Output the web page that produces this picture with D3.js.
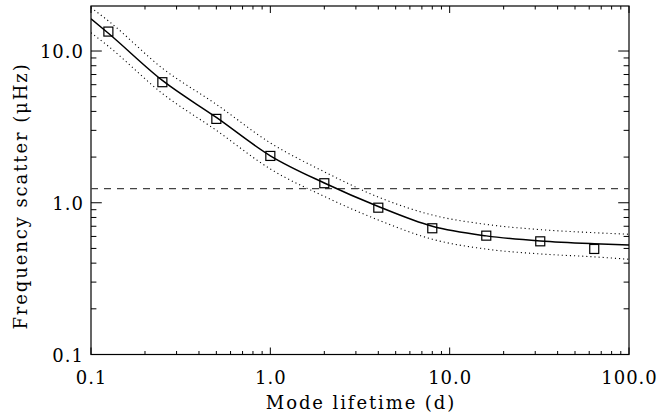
<!DOCTYPE html>
<html lang="en">
<head>
    <meta charset="UTF-8">
    <title>Frequency scatter vs mode lifetime</title>
    <script src="https://cdn.jsdelivr.net/npm/d3@7"></script>
    <style>
        body { margin: 0; background: #fff; }
        svg { display: block; }
        text { font-family: "DejaVu Serif", "Liberation Serif", serif; fill: #000; }
        .tick-label { font-size: 18px; letter-spacing: 1px; }
        .axis-title { font-size: 18px; letter-spacing: 1.9px; }
    </style>
</head>
<body>
<script>
    // fitted curve and its bounds
    const curveT = [0.1, 0.125, 0.25, 0.5, 1, 2, 4, 8, 16, 32, 64, 100];
    const curveMid = [16.3, 13.1, 6.4, 3.65, 2.04, 1.35, 0.945, 0.70, 0.605, 0.56, 0.537, 0.527];
    const curveUpper = [19.3, 15.8, 7.7, 4.45, 2.48, 1.6, 1.09, 0.83, 0.72, 0.665, 0.635, 0.62];
    const curveLower = [13.2, 10.75, 5.25, 3.0, 1.67, 1.1, 0.77, 0.575, 0.495, 0.46, 0.44, 0.424];

    // measured points
    const pointT = [0.125, 0.25, 0.5, 1, 2, 4, 8, 16, 32, 64];
    const pointScatter = [13.43, 6.23, 3.57, 2.035, 1.345, 0.928, 0.679, 0.607, 0.557, 0.496];

    // horizontal reference level
    const refLevel = 1.24;

    const xTicks = [0.1, 1, 10, 100];
    const xTickLabels = ["0.1", "1.0", "10.0", "100.0"];
    const yTicks = [0.1, 1, 10];
    const yTickLabels = ["0.1", "1.0", "10.0"];

    const width = 658;
    const height = 416;
    const margin = { top: 6, right: 29, bottom: 61.5, left: 91 };
    const plotW = width - margin.left - margin.right;
    const plotH = height - margin.top - margin.bottom;

    const x = d3.scaleLog().domain([0.1, 100]).range([0, plotW]);
    const y = d3.scaleLog().domain([0.1, 19.8]).range([plotH, 0]);

    const svg = d3.select("body").append("svg")
        .attr("width", width)
        .attr("height", height);

    const g = svg.append("g")
        .attr("transform", `translate(${margin.left},${margin.top})`);

    // minor tick values for log axes
    function logTicks(lo, hi) {
        let out = [];
        for (let p = Math.floor(Math.log10(lo)); p <= Math.ceil(Math.log10(hi)); p++) {
            for (let k = 1; k < 10; k++) {
                let v = k * Math.pow(10, p);
                if (v >= lo * 0.999 && v <= hi * 1.001) out.push({ v: v, major: k === 1 });
            }
        }
        return out;
    }

    const xAll = logTicks(0.1, 100);
    const yAll = logTicks(0.1, 19.8);

    const tickG = g.append("g").attr("stroke", "#000").attr("stroke-width", 1);

    // bottom and top ticks
    const hLen = d => d.major ? 7 : 3.5;
    tickG.selectAll(".xb").data(xAll).enter().append("line")
        .attr("x1", d => x(d.v)).attr("x2", d => x(d.v))
        .attr("y1", plotH).attr("y2", d => plotH - hLen(d));
    tickG.selectAll(".xt").data(xAll).enter().append("line")
        .attr("x1", d => x(d.v)).attr("x2", d => x(d.v))
        .attr("y1", 0).attr("y2", d => hLen(d));

    // left and right ticks
    const vLen = d => d.major ? 10.8 : 5.4;
    tickG.selectAll(".yl").data(yAll).enter().append("line")
        .attr("y1", d => y(d.v)).attr("y2", d => y(d.v))
        .attr("x1", 0).attr("x2", d => vLen(d));
    tickG.selectAll(".yr").data(yAll).enter().append("line")
        .attr("y1", d => y(d.v)).attr("y2", d => y(d.v))
        .attr("x1", plotW).attr("x2", d => plotW - vLen(d));

    // frame
    g.append("rect")
        .attr("width", plotW)
        .attr("height", plotH)
        .attr("fill", "none")
        .attr("stroke", "#000")
        .attr("stroke-width", 1.2);

    // tick labels
    g.selectAll(".xlab").data(xTicks).enter().append("text")
        .attr("class", "tick-label")
        .attr("x", d => x(d) + 0.5)
        .attr("y", plotH + 29)
        .attr("text-anchor", "middle")
        .text((d, i) => xTickLabels[i]);

    g.selectAll(".ylab").data(yTicks).enter().append("text")
        .attr("class", "tick-label")
        .attr("x", -7)
        .attr("y", d => y(d) + 7)
        .attr("text-anchor", "end")
        .text((d, i) => yTickLabels[i]);

    // axis titles
    g.append("text")
        .attr("class", "axis-title")
        .attr("x", plotW / 2 + 1)
        .attr("y", plotH + 54)
        .attr("text-anchor", "middle")
        .text("Mode lifetime (d)");

    svg.append("text")
        .attr("class", "axis-title")
        .attr("transform", "translate(27,196) rotate(-90)")
        .attr("text-anchor", "middle")
        .text("Frequency scatter (\u03BCHz)");

    // clip to plot area
    svg.append("defs").append("clipPath").attr("id", "clip")
        .append("rect").attr("width", plotW).attr("height", plotH);

    const plot = g.append("g").attr("clip-path", "url(#clip)");

    const line = d3.line()
        .x(d => x(d[0]))
        .y(d => y(d[1]))
        .curve(d3.curveMonotoneX);

    // dashed reference level
    plot.append("line")
        .attr("x1", 0).attr("x2", plotW)
        .attr("y1", y(refLevel)).attr("y2", y(refLevel))
        .attr("stroke", "#444")
        .attr("stroke-width", 1.3)
        .attr("stroke-dasharray", "7,6");

    // dotted bounds
    [curveUpper, curveLower].forEach(arr => {
        plot.append("path")
            .datum(curveT.map((t, i) => [t, arr[i]]))
            .attr("d", line)
            .attr("fill", "none")
            .attr("stroke", "#000")
            .attr("stroke-width", 1.1)
            .attr("stroke-dasharray", "1.1,3");
    });

    // solid fit
    plot.append("path")
        .datum(curveT.map((t, i) => [t, curveMid[i]]))
        .attr("d", line)
        .attr("fill", "none")
        .attr("stroke", "#000")
        .attr("stroke-width", 1.5);

    // squares
    const sq = 9;
    g.selectAll(".pt").data(pointT.map((t, i) => [t, pointScatter[i]])).enter().append("rect")
        .attr("x", d => x(d[0]) - sq / 2)
        .attr("y", d => y(d[1]) - sq / 2)
        .attr("width", sq)
        .attr("height", sq)
        .attr("fill", "none")
        .attr("stroke", "#000")
        .attr("stroke-width", 1.2);
</script>
</body>
</html>
